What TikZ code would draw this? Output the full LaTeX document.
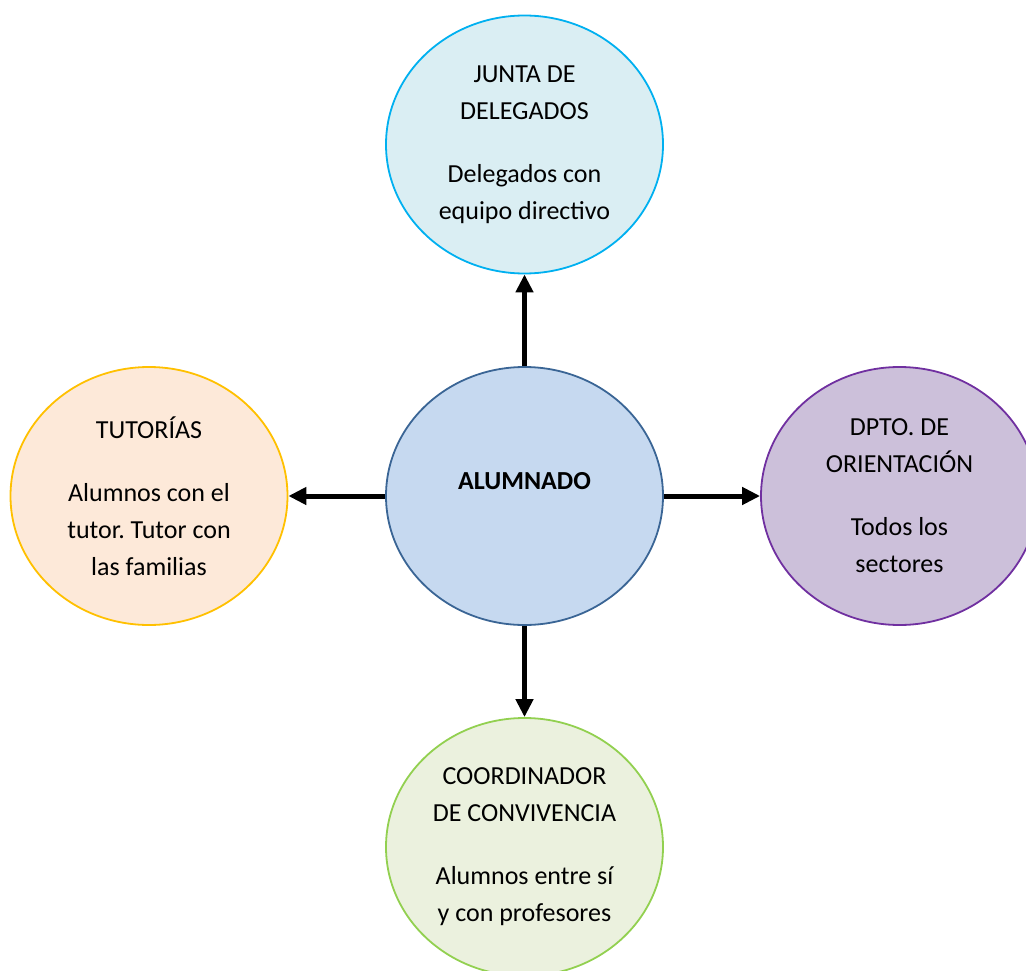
\documentclass[tikz,border=0pt]{standalone}
\usepackage{fontspec}
\setmainfont{Carlito}
\usetikzlibrary{shapes.geometric,arrows.meta}
\frenchspacing
\definecolor{topfill}{HTML}{DAEEF3}
\definecolor{topdraw}{HTML}{00B0F0}
\definecolor{cenfill}{HTML}{C6D9F0}
\definecolor{cendraw}{HTML}{3A6595}
\definecolor{leftfill}{HTML}{FDE9D9}
\definecolor{leftdraw}{HTML}{FFC000}
\definecolor{rightfill}{HTML}{CCC0DA}
\definecolor{rightdraw}{HTML}{7030A0}
\definecolor{botfill}{HTML}{EBF1DE}
\definecolor{botdraw}{HTML}{92D050}
\tikzset{
  bubble/.style={ellipse, minimum width=277pt, minimum height=258pt, inner sep=0pt,
    line width=1.8pt, align=center, font=\fontsize{26}{37}\selectfont\frenchspacing},
  conn/.style={line width=5pt, -{Triangle[length=18pt,width=17pt]}},
  lbl/.style={font=\fontsize{26}{37}\selectfont\bfseries}
}
\begin{document}
\begin{tikzpicture}[x=1pt,y=-1pt]
\useasboundingbox (0,0) rectangle (1026,971);
\clip (0,0) rectangle (1026,971);
\node[bubble, fill=topfill, draw=topdraw] (top) at (524.5,144.5)
  {JUNTA DE\\DELEGADOS\\[26pt]Delegados con\\equipo directivo};
\node[bubble, fill=cenfill, draw=cendraw] (cen) at (524.5,496) {};
\node[lbl] (alum) at (524.5,481) {ALUMNADO};
\node[bubble, fill=leftfill, draw=leftdraw] (left) at (149,496)
  {TUTORÍAS\\[26pt]Alumnos con el\\tutor. Tutor con\\las familias};
\node[bubble, fill=rightfill, draw=rightdraw] (right) at (899.5,496)
  {DPTO. DE\\ORIENTACIÓN\\[26pt]Todos los\\sectores};
\node[bubble, fill=botfill, draw=botdraw] (bot) at (524.5,847)
  {COORDINADOR\\DE CONVIVENCIA\\[26pt]Alumnos entre sí\\y con profesores};
\draw[conn] (cen.north) -- (top.south);
\draw[conn] (cen.west) -- (left.east);
\draw[conn] (cen.east) -- (right.west);
\draw[conn] (cen.south) -- (bot.north);
\end{tikzpicture}
\end{document}
